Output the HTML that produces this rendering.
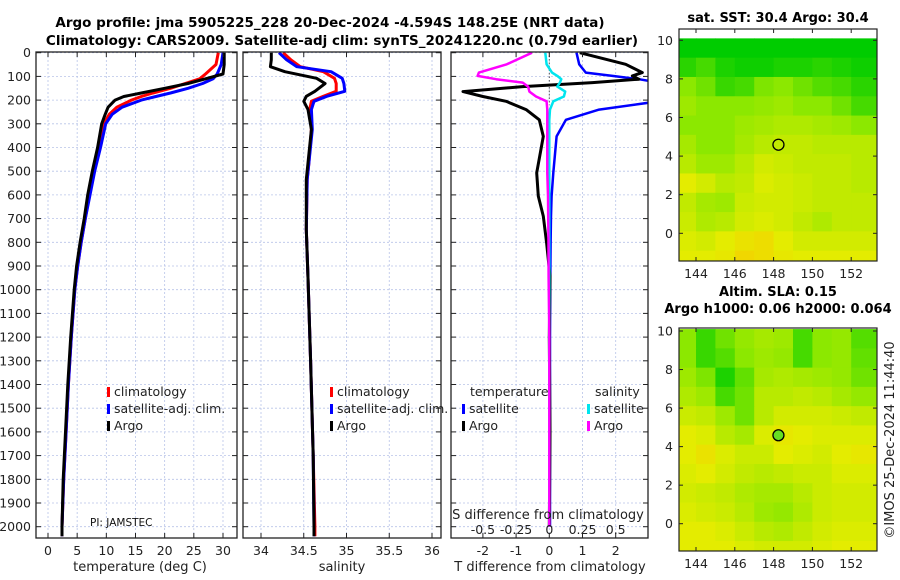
<!DOCTYPE html>
<html><head><meta charset="utf-8">
<style>
html,body{margin:0;padding:0;background:#fff;}
svg{display:block;font-family:"DejaVu Sans","Liberation Sans",sans-serif;}
</style></head>
<body>
<svg id="c" width="900" height="580" viewBox="0 0 900 580" xmlns="http://www.w3.org/2000/svg">
<defs>
<clipPath id="cp1"><rect x="36" y="52" width="201" height="486"/></clipPath>
<clipPath id="cp2"><rect x="243" y="52" width="198" height="486"/></clipPath>
<clipPath id="cp3"><rect x="451" y="52" width="197" height="486"/></clipPath>
</defs>
<text x="330" y="27" text-anchor="middle" font-size="13.5" font-weight="bold">Argo profile: jma 5905225_228 20-Dec-2024 -4.594S 148.25E (NRT data)</text>
<text x="342" y="45" text-anchor="middle" font-size="13.5" font-weight="bold">Climatology: CARS2009. Satellite-adj clim: synTS_20241220.nc (0.79d earlier)</text>
<g id="grid"></g>
<g id="marks"></g>
<g id="axes"></g>
<text x="140" y="571" text-anchor="middle" font-size="13" fill="#222">temperature (deg C)</text>
<text x="342" y="571" text-anchor="middle" font-size="13" fill="#222">salinity</text>
<text x="550" y="571" text-anchor="middle" font-size="13" fill="#222">T difference from climatology</text>
<text x="548" y="519" text-anchor="middle" font-size="13" fill="#222">S difference from climatology</text>
<text x="90" y="526" font-size="10.5" fill="#111">PI: JAMSTEC</text>
<text x="778" y="22" text-anchor="middle" font-size="13" font-weight="bold">sat. SST: 30.4 Argo: 30.4</text>
<text x="778" y="296" text-anchor="middle" font-size="13" font-weight="bold">Altim. SLA: 0.15</text>
<text x="778" y="313" text-anchor="middle" font-size="13" font-weight="bold">Argo h1000: 0.06 h2000: 0.064</text>
<text transform="translate(894,440) rotate(-90)" text-anchor="middle" font-size="13" fill="#222">©IMOS 25-Dec-2024 11:44:40</text>
</svg>
<script>
// ---------- data ----------
const tDepth = [0,50,90,110,130,150,170,185,200,230,260,300,400,500,600,700,800,900,1000,1200,1400,1600,1800,2000,2040];
const tArgo  = [30.2,30.2,30,27,24,20,16,13,11.5,10.3,9.8,9.2,8.5,7.6,6.8,6.2,5.5,4.9,4.5,3.9,3.4,3.0,2.6,2.4,2.4];
const tClim  = [29.2,28.8,27,26,23.5,21,18,16,14.3,11.8,10.5,9.6,8.7,7.9,7.1,6.4,5.7,5.1,4.6,4.0,3.5,3.1,2.7,2.4,2.4];
const tSat   = [30,29.7,29,28.3,26.5,24,21,18.5,16,12.7,11,9.9,9.0,8.0,7.2,6.4,5.7,5.1,4.6,4.0,3.5,3.1,2.7,2.4,2.4];
const sDepth = [0,30,59,80,108,130,163,184,205,240,324,465,535,746,950,1300,1700,2000,2040];
const sArgo  = [34.12,34.12,34.11,34.28,34.65,34.75,34.63,34.53,34.50,34.55,34.59,34.55,34.53,34.53,34.55,34.58,34.61,34.62,34.62];
const sClim  = [34.26,34.35,34.46,34.73,34.86,34.88,34.88,34.73,34.59,34.57,34.59,34.56,34.54,34.53,34.55,34.58,34.61,34.63,34.63];
const sSat   = [34.21,34.30,34.42,34.82,34.95,34.97,34.98,34.77,34.62,34.59,34.60,34.56,34.54,34.53,34.55,34.58,34.61,34.62,34.62];
const dDepth = [0,49,84,98,112,126,143,164,185,205,240,283,353,507,605,690,802,943,1200,1600,2000];
const dTArgo = [0.92,2.3,2.8,2.5,2.7,1.3,-0.8,-2.6,-2.0,-1.3,-0.7,-0.3,-0.18,-0.38,-0.33,-0.18,-0.08,0.02,0.0,0.02,0.0];
const dTSat  = [0.82,0.9,1.1,1.9,2.7,3.3,3.6,3.8,3.6,3.3,1.5,0.5,0.22,0.12,0.07,0.05,0.04,0.03,0.02,0.02,0.02];
const dSSat  = [-0.03,-0.02,0.02,0.06,0.09,0.08,0.06,0.12,0.11,0.03,0.005,0.0,0,0,0,0,0,0,0,0,0];
const dSArgo = [-0.13,-0.32,-0.53,-0.54,-0.4,-0.2,-0.16,-0.15,-0.1,-0.02,-0.015,-0.015,-0.015,-0.015,-0.01,-0.008,-0.006,-0.005,0,0,0];
const depthTicks = [0,100,200,300,400,500,600,700,800,900,1000,1100,1200,1300,1400,1500,1600,1700,1800,1900,2000];
const tTicks = [0,5,10,15,20,25,30];
const sTicks = [34,34.5,35,35.5,36];
const sTickLabels = ["34","34.5","35","35.5","36"];
const dTicks = [-2,-1,0,1,2];
const dSTicks = [-0.5,-0.25,0,0.25,0.5];
const dSTickLabels = ["-0.5","-0.25","0","0.25","0.5"];
const lonTicks = [144,146,148,150,152];
const latTicks = [0,2,4,6,8,10];
const sstGrid = [
[0,0,0,0,0,0,0,0,0,0],
[0.3,0.5,0.2,0.1,0.1,0.2,0.2,0.3,0.2,0.1],
[1,0.8,0.4,0.5,0.9,1,0.8,0.6,0.5,0.3],
[1.2,1,1,1,1.1,1.2,1,1,0.8,0.5],
[1,1,1,1.2,1.3,1.4,1.4,1.3,1.2,1],
[1.3,1,1,1.3,1.5,1.6,1.6,1.5,1.5,1.5],
[1.5,1.2,1.2,1.5,1.8,1.7,1.6,1.6,1.6,1.5],
[2,1.8,1.5,1.6,1.9,1.8,1.7,1.6,1.6,1.5],
[1.6,1.3,1.2,1.7,1.8,1.8,1.7,1.6,1.6,1.6],
[1.7,1.4,1.5,1.8,1.9,1.8,1.6,1.4,1.6,1.6],
[1.9,1.8,2,2.2,2.3,2,1.8,1.8,1.8,1.8],
[2,2,2.1,2.4,2.3,2.1,2,2,2,2]];
const slaGrid = [
[1,0.4,0.8,1.1,1.3,1.2,0.5,1,1.1,0.6],
[1,0.4,0.6,1,1.2,1.1,0.5,1,1.1,0.7],
[1.2,0.9,0.2,0.7,1.3,1.4,1.3,1.2,1.1,0.8],
[1.4,1.2,0.5,0.8,1.5,1.5,1.6,1.5,1.3,1.1],
[1.7,1.6,1.2,0.8,1.5,1.8,1.8,1.8,1.7,1.6],
[2,1.9,1.5,1.3,1.9,2.1,2,1.9,1.9,1.9],
[2,2.2,1.9,1.7,1.7,2,1.9,1.8,2,2.1],
[1.9,2,1.8,1.6,1.5,1.6,1.7,1.7,1.9,1.9],
[1.8,1.7,1.6,1.4,1.3,1.3,1.5,1.7,1.8,1.8],
[1.9,1.8,1.7,1.5,1.2,1.1,1.4,1.7,1.8,1.8],
[2,2,1.9,1.7,1.5,1.4,1.6,1.8,1.9,1.9],
[2,2,2,1.9,1.8,1.8,1.8,1.9,2,2]];
const floatLon = 148.25, floatLat = 4.59;

// ---------- scales ----------
const NS="http://www.w3.org/2000/svg";
const yD = d => 52.7 + d*0.237;
const xT = t => 48 + t*5.833;
const xS = s => 261 + (s-34)*85.5;
const xDT = d => 549.3 + d*33.2;
const xDS = d => 549.3 + d*4*33.2;
const P = [{x0:36,x1:237},{x0:243,x1:441},{x0:451,x1:648}];
const Y0=52, Y1=538;
function el(tag, attrs, parent){const e=document.createElementNS(NS,tag);for(const k in attrs)e.setAttribute(k,attrs[k]);parent.appendChild(e);return e;}
const grid=document.getElementById('grid'), marks=document.getElementById('marks'), axes=document.getElementById('axes');

// grid
P.forEach((p,i)=>{
  depthTicks.forEach(d=>{const l=el('line',{x1:p.x0,x2:p.x1,y1:yD(d),y2:yD(d),stroke:'#b8c4e8','stroke-width':0.8,'stroke-dasharray':'2,2'},grid);
    
    });
});
[[tTicks,xT],[sTicks,xS],[dTicks,xDT]].forEach(([tk,f])=>tk.forEach(v=>{
  const l=el('line',{x1:f(v),x2:f(v),y1:Y0,y2:Y1,stroke:'#b8c4e8','stroke-width':0.8,'stroke-dasharray':'2,2'},grid);
  
  
}));
const zl=el('line',{x1:xDT(0),x2:xDT(0),y1:Y0,y2:yD(220),stroke:'#555','stroke-width':1,'stroke-dasharray':'1.5,2'},grid);



function line(xs, ds, fx, color, w, clip, name){
  const pts = xs.map((v,i)=>fx(v).toFixed(1)+','+yD(ds[i]).toFixed(1)).join(' ');
  const pl=el('polyline',{points:pts,fill:'none',stroke:color,'stroke-width':w,'stroke-linejoin':'round','clip-path':'url(#'+clip+')'},marks);
  
  
}
line(tClim,tDepth,xT,'#ff0000',3,'cp1','temp-climatology-line');
line(tSat,tDepth,xT,'#0000ff',3,'cp1','temp-satellite-line');
line(tArgo,tDepth,xT,'#000',3,'cp1','temp-argo-line');
line(sClim,sDepth,xS,'#ff0000',3,'cp2','sal-climatology-line');
line(sSat,sDepth,xS,'#0000ff',3,'cp2','sal-satellite-line');
line(sArgo,sDepth,xS,'#000',3,'cp2','sal-argo-line');
line(dTSat,dDepth,xDT,'#0000ff',2.5,'cp3','tdiff-satellite-line');
line(dTArgo,dDepth,xDT,'#000',3,'cp3','tdiff-argo-line');
line(dSSat,dDepth,xDS,'#00e5ee',2.5,'cp3','sdiff-satellite-line');
line(dSArgo,dDepth,xDS,'#ff00ff',2.5,'cp3','sdiff-argo-line');

// axes frames & ticks
P.forEach((p,i)=>{
  const r=el('rect',{x:p.x0,y:Y0,width:p.x1-p.x0,height:Y1-Y0,fill:'none',stroke:'#222','stroke-width':1.3},axes);
  
  
  depthTicks.forEach(d=>{
    el('line',{x1:p.x0,x2:p.x0+5,y1:yD(d),y2:yD(d),stroke:'#222'},axes);
    el('line',{x1:p.x1-5,x2:p.x1,y1:yD(d),y2:yD(d),stroke:'#222'},axes);
  });
});
depthTicks.forEach(d=>{const t=el('text',{x:31,y:yD(d)+4.5,'text-anchor':'end','font-size':12.5,fill:'#222'},axes);t.textContent=d;
  
  });
function xticks(vals,labels,f,yl,top){
  vals.forEach((v,i)=>{
    el('line',{x1:f(v),x2:f(v),y1:Y1-5,y2:Y1,stroke:'#222'},axes);
    if(top) el('line',{x1:f(v),x2:f(v),y1:Y0,y2:Y0+5,stroke:'#222'},axes);
    const t=el('text',{x:f(v),y:yl,'text-anchor':'middle','font-size':12.5,fill:'#222'},axes);t.textContent=labels[i];
    
    
  });
}
xticks(tTicks,tTicks.map(String),xT,555,true);
xticks(sTicks,sTickLabels,xS,555,true);
xticks(dTicks,dTicks.map(String),xDT,555,true);
dSTicks.forEach((v,i)=>{const t=el('text',{x:xDS(v),y:534,'text-anchor':'middle','font-size':12.5,fill:'#222'},axes);t.textContent=dSTickLabels[i];
  
  });

// legends
function leg(x,y,color,label){
  el('rect',{x:x,y:y-9,width:3,height:10,fill:color},axes);
  const t=el('text',{x:x+7,y:y,'font-size':12.5,fill:'#222'},axes);t.textContent=label;
  
  
}
leg(107,396,'#ff0000','climatology');leg(107,413,'#0000ff','satellite-adj. clim.');leg(107,430,'#000','Argo');
leg(330,396,'#ff0000','climatology');leg(330,413,'#0000ff','satellite-adj. clim.');leg(330,430,'#000','Argo');
{const t=el('text',{x:470,y:396,'font-size':12.5,fill:'#222'},axes);t.textContent='temperature';}
{const t=el('text',{x:595,y:396,'font-size':12.5,fill:'#222'},axes);t.textContent='salinity';}
leg(462,413,'#0000ff','satellite');leg(462,430,'#000','Argo');
leg(587,413,'#00e5ee','satellite');leg(587,430,'#ff00ff','Argo');

// maps
function cmap(v){
  const stops=[[0,[0,204,0]],[1,[140,232,0]],[2,[228,236,0]],[2.6,[246,205,0]]];
  v=Math.max(0,Math.min(2.6,v));
  for(let i=1;i<stops.length;i++){if(v<=stops[i][0]){const a=stops[i-1],b=stops[i];const f=(v-a[0])/(b[0]-a[0]);
    return 'rgb('+a[1].map((c,k)=>Math.round(c+(b[1][k]-c)*f)).join(',')+')';}}
}
function drawMap(g, top, lat10y, lat0y, name){
  const lonX = lo => 696 + (lo-144)*19.4;
  const latY = la => lat0y + (lat10y-lat0y)*la/10;
  const fx0=679, fx1=877, fy1=top.bottom;
  const mg=el('g',{},marks);
  
  
  g.forEach((row,ri)=>row.forEach((v,ci)=>{
    const laTop=10.1-ri, laBot=Math.max(10.1-ri-1,-1.5);
    const xa=Math.max(fx0,lonX(143+ci)), xb=(ci===row.length-1)?fx1:lonX(144+ci);
    const ya=latY(laTop), yb=Math.min(fy1,latY(laBot));
    const r=el('rect',{x:xa,y:ya,width:xb-xa+0.5,height:yb-ya+0.5,fill:cmap(v)},mg);
    
    
  }));
  const fr=el('rect',{x:fx0,y:top.top,width:fx1-fx0,height:fy1-top.top,fill:'none',stroke:'#222','stroke-width':1.2},axes);
  
  
  lonTicks.forEach(lo=>{
    el('line',{x1:lonX(lo),x2:lonX(lo),y1:fy1,y2:fy1-4,stroke:'#222'},axes);
    el('line',{x1:lonX(lo),x2:lonX(lo),y1:top.top,y2:top.top+4,stroke:'#222'},axes);
    const t=el('text',{x:lonX(lo),y:fy1+17,'text-anchor':'middle','font-size':12.5,fill:'#222'},axes);t.textContent=lo;
    
    
  });
  latTicks.forEach(la=>{
    el('line',{x1:fx0,x2:fx0+4,y1:latY(la),y2:latY(la),stroke:'#222'},axes);
    el('line',{x1:fx1-4,x2:fx1,y1:latY(la),y2:latY(la),stroke:'#222'},axes);
    const t=el('text',{x:fx0-6,y:latY(la)+4.5,'text-anchor':'end','font-size':12.5,fill:'#222'},axes);t.textContent=la;
    
    
  });
  return {lonX,latY};
}
const m1=drawMap(sstGrid,{top:29,bottom:261},40.3,233.3,'sst-map');
const m2=drawMap(slaGrid,{top:328,bottom:551},331,523.7,'sla-map');
const c1=el('circle',{cx:m1.lonX(floatLon),cy:m1.latY(floatLat),r:5.5,fill:'none',stroke:'#000','stroke-width':1.3},axes);


const c2=el('circle',{cx:m2.lonX(floatLon),cy:m2.latY(floatLat),r:5.5,fill:'#66dd22',stroke:'#000','stroke-width':1.3},axes);


</script>
</body></html>
